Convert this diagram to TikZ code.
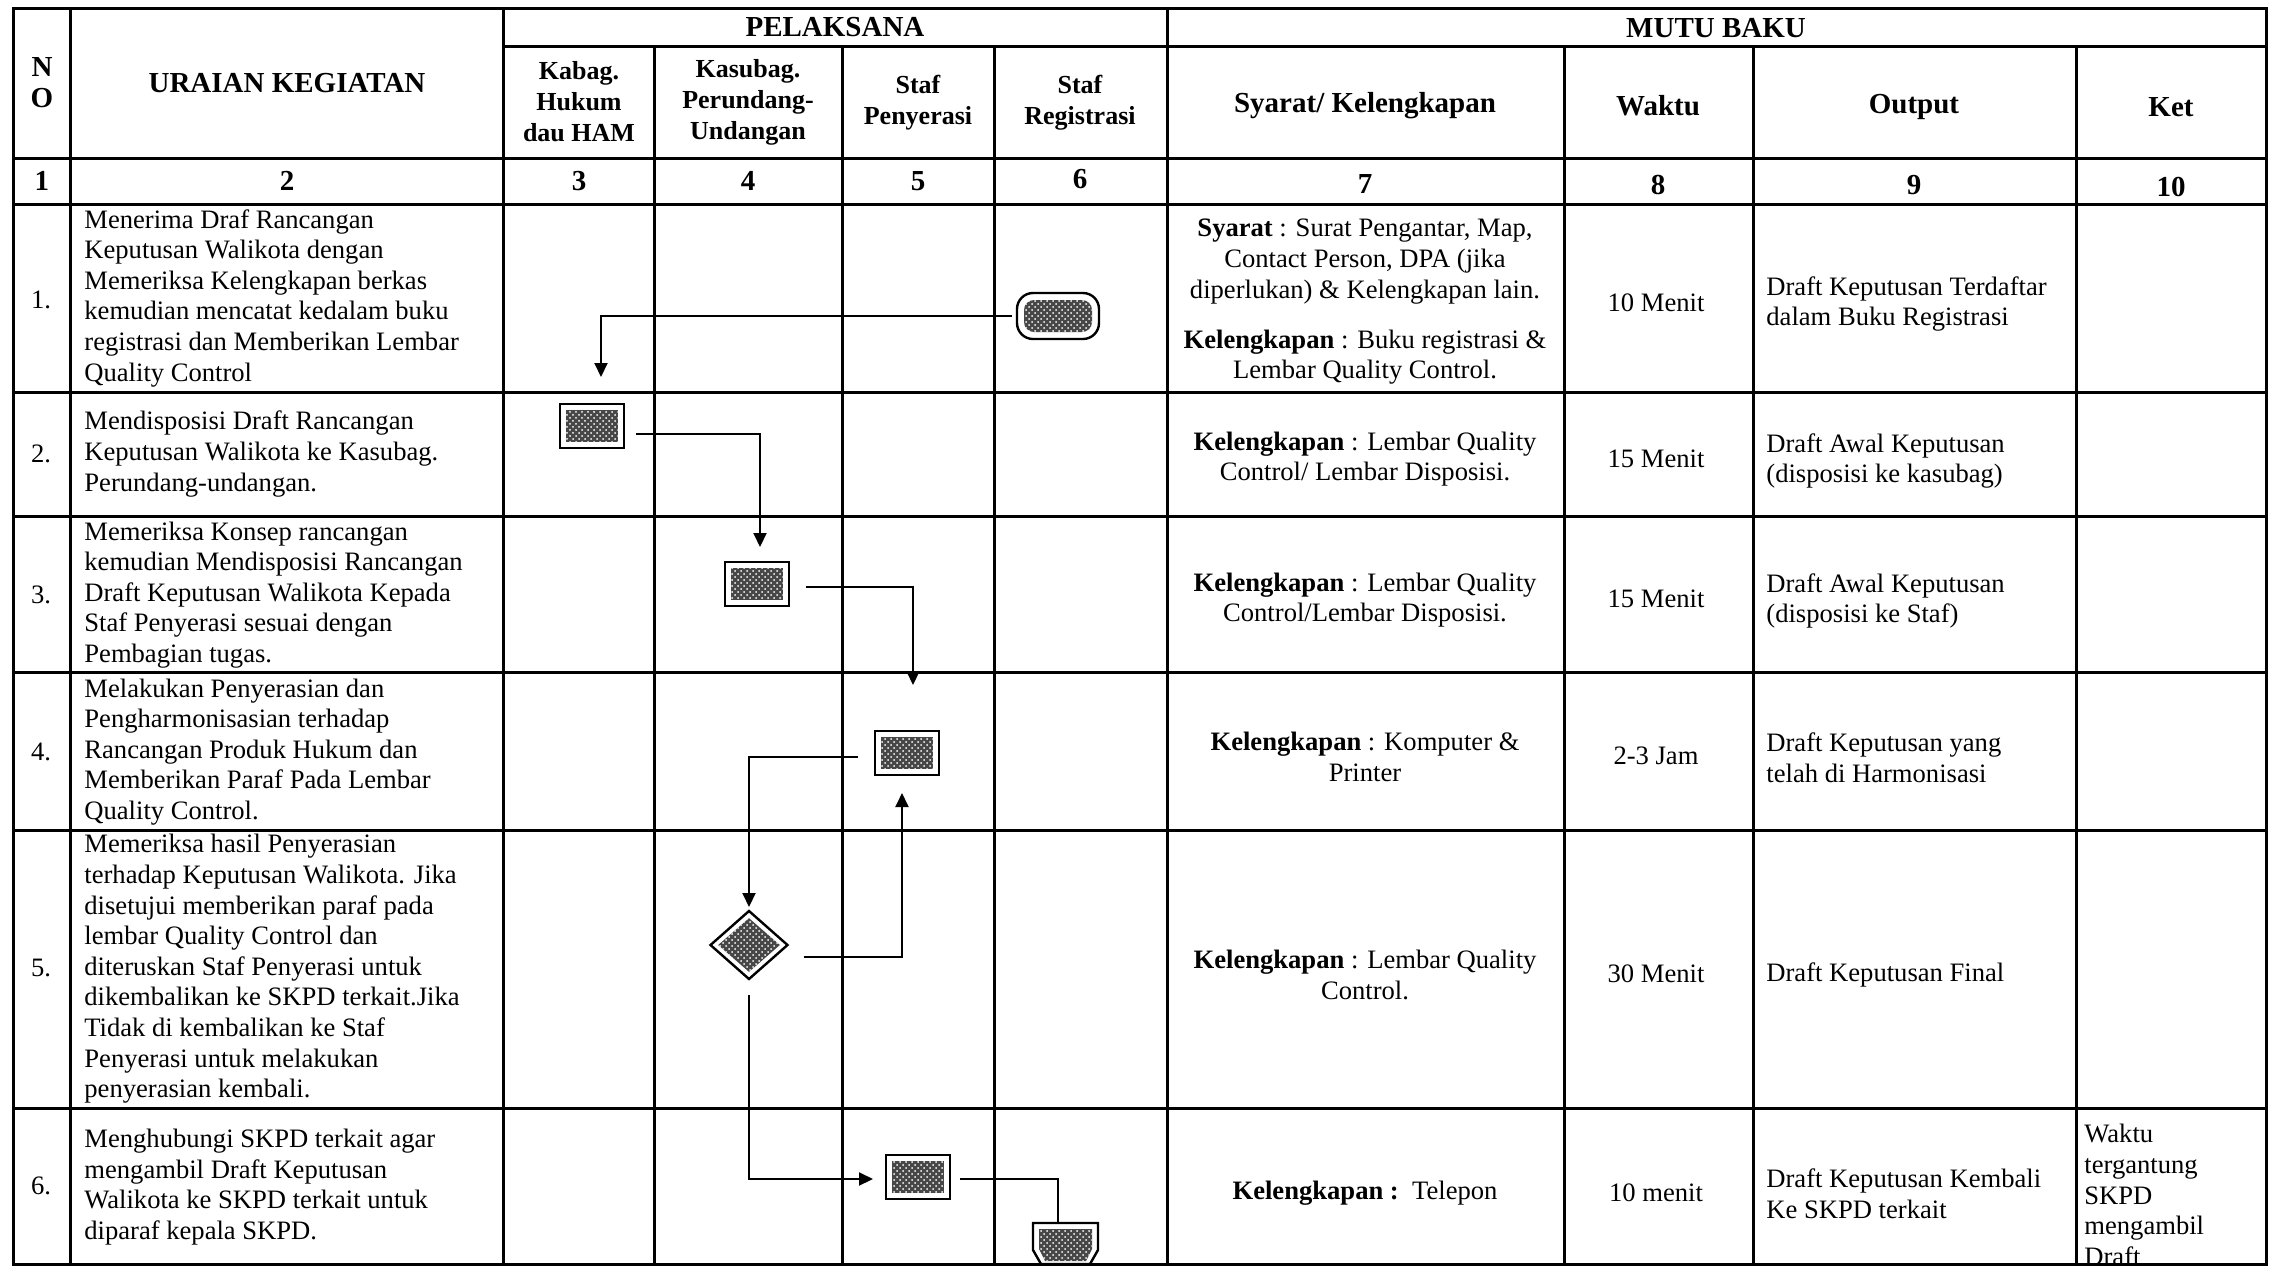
\documentclass[tikz,border=0pt]{standalone}
\usepackage{fontspec}
\setmainfont{Liberation Serif}
\usetikzlibrary{arrows.meta,patterns,shapes.geometric}
\begin{document}
\begin{tikzpicture}[x=0.5pt,y=-0.5pt,
  grid/.style={line width=1.5pt, line cap=rect},
  body/.style={font=\fontsize{13.3}{15.3}\selectfont, inner sep=0pt},
  lbody/.style={body, align=left, anchor=west},
  cbody/.style={body, align=center},
  head/.style={font=\fontsize{14.5}{15.5}\selectfont\bfseries, inner sep=0pt, align=center},
  subhead/.style={font=\fontsize{13}{15.5}\selectfont\bfseries, inner sep=0pt, align=center},
  flow/.style={line width=1pt, -{Triangle[width=6.5pt,length=7pt]}},
  link/.style={line width=1pt},
  texture/.style={fill=black!72, postaction={pattern=crosshatch dots, pattern color=white}},
  procbox/.style={draw, line width=1.2pt, fill=white, minimum width=32pt, minimum height=22pt, inner sep=0pt, outer sep=0pt},
  procin/.style={texture, minimum width=26pt, minimum height=16pt, inner sep=0pt},
  termbox/.style={draw, line width=1.2pt, fill=white, rounded corners=8pt, minimum width=41pt, minimum height=23pt, inner sep=0pt, outer sep=0pt},
  termin/.style={texture, rounded corners=5pt, minimum width=34pt, minimum height=16pt, inner sep=0pt},
  decbox/.style={diamond, draw, line width=1.2pt, fill=white, minimum width=38.5pt, minimum height=34pt, inner sep=0pt, outer sep=0pt},
  decin/.style={diamond, texture, minimum width=31pt, minimum height=27pt, inner sep=0pt},
]
\useasboundingbox (0,0) rectangle (2276,1270);
\fill[white] (0,0) rectangle (2276,1270);

% ---------- table grid ----------
\draw[grid] (13,8) rectangle (2266,1264);
\foreach \y in {158,204,392,516,672,830,1108} \draw[grid] (13,\y) -- (2266,\y);
\draw[grid] (503,46) -- (2266,46);
\foreach \x in {70,503,1167} \draw[grid] (\x,8) -- (\x,1264);
\foreach \x in {654,842,994,1564,1753,2076} \draw[grid] (\x,46) -- (\x,1264);

% ---------- header ----------
\node[head] (hno) at (42,83) {N\\O};
\node[head] (hur) at (287,83) {URAIAN KEGIATAN};
\node[head] (hpel) at (835,27) {PELAKSANA};
\node[head] (hmutu) at (1716,28) {MUTU BAKU};
\node[subhead] (hkab) at (579,102) {Kabag.\\Hukum\\dau HAM};
\node[subhead] (hkas) at (748,102) {Kasubag.\\Perundang-\\Undangan};
\node[subhead] (hstp) at (918,103) {Staf\\Penyerasi};
\node[subhead] (hstr) at (1080,103) {Staf\\Registrasi};
\node[head] (hsy) at (1365,106) {Syarat/ Kelengkapan};
\node[head] (hwak) at (1658,106) {Waktu};
\node[head] (hout) at (1914,107) {Output};
\node[head] (hket) at (2171,107) {Ket};

% number row
\node[head] (n1) at (42,181) {1};
\node[head] (n2) at (287,181) {2};
\node[head] (n3) at (579,181) {3};
\node[head] (n4) at (748,181) {4};
\node[head] (n5) at (918,181) {5};
\node[head] (n6) at (1080,179) {6};
\node[head] (n7) at (1365,184) {7};
\node[head] (n8) at (1658,185) {8};
\node[head] (n9) at (1914,185) {9};
\node[head] (n10) at (2171,187) {10};

% ---------- row numbers ----------
\node[body] (r1) at (41,300) {1.};
\node[body] (r2) at (41,454) {2.};
\node[body] (r3) at (41,595) {3.};
\node[body] (r4) at (41,752) {4.};
\node[body] (r5) at (41,968) {5.};
\node[body] (r6) at (41,1186) {6.};

% ---------- column 2 ----------
\node[lbody] (u1) at (84,298) {Menerima Draf Rancangan\\Keputusan Walikota dengan\\Memeriksa Kelengkapan berkas\\kemudian mencatat kedalam buku\\registrasi dan Memberikan Lembar\\Quality Control};
\node[lbody] (u2) at (84,454) {Mendisposisi Draft Rancangan\\Keputusan Walikota ke Kasubag.\\Perundang-undangan.};
\node[lbody] (u3) at (84,595) {Memeriksa Konsep rancangan\\kemudian Mendisposisi Rancangan\\Draft Keputusan Walikota Kepada\\Staf Penyerasi sesuai dengan\\Pembagian tugas.};
\node[lbody] (u4) at (84,752) {Melakukan Penyerasian dan\\Pengharmonisasian terhadap\\Rancangan Produk Hukum dan\\Memberikan Paraf Pada Lembar\\Quality Control.};
\node[lbody] (u5) at (84,969) {Memeriksa hasil Penyerasian\\terhadap Keputusan Walikota. Jika\\disetujui memberikan paraf pada\\lembar Quality Control dan\\diteruskan Staf Penyerasi untuk\\dikembalikan ke SKPD terkait.Jika\\Tidak di kembalikan ke Staf\\Penyerasi untuk melakukan\\penyerasian kembali.};
\node[lbody] (u6) at (84,1187) {Menghubungi SKPD terkait agar\\mengambil Draft Keputusan\\Walikota ke SKPD terkait untuk\\diparaf kepala SKPD.};

% ---------- column 7 ----------
\node[cbody] (s1) at (1365,302) {\textbf{Syarat} : Surat Pengantar, Map,\\Contact Person, DPA (jika\\diperlukan) \& Kelengkapan lain.\\[9.75pt]\textbf{Kelengkapan} : Buku registrasi \&\\Lembar Quality Control.};
\node[cbody] (s2) at (1365,459) {\textbf{Kelengkapan} : Lembar Quality\\Control/ Lembar Disposisi.};
\node[cbody] (s3) at (1365,600) {\textbf{Kelengkapan} : Lembar Quality\\Control/Lembar Disposisi.};
\node[cbody] (s4) at (1365,757) {\textbf{Kelengkapan} : Komputer \&\\Printer};
\node[cbody] (s5) at (1365,975) {\textbf{Kelengkapan} : Lembar Quality\\Control.};
\node[cbody] (s6) at (1365,1193) {\textbf{Kelengkapan :}\ \ Telepon};

% ---------- column 8 ----------
\node[cbody] (w1) at (1656,303) {10 Menit};
\node[cbody] (w2) at (1656,459) {15 Menit};
\node[cbody] (w3) at (1656,599) {15 Menit};
\node[cbody] (w4) at (1656,756) {2-3 Jam};
\node[cbody] (w5) at (1656,974) {30 Menit};
\node[cbody] (w6) at (1656,1193) {10 menit};

% ---------- column 9 ----------
\node[lbody] (o1) at (1766,304) {Draft Keputusan Terdaftar\\dalam Buku Registrasi};
\node[lbody] (o2) at (1766,461) {Draft Awal Keputusan\\(disposisi ke kasubag)};
\node[lbody] (o3) at (1766,601) {Draft Awal Keputusan\\(disposisi ke Staf)};
\node[lbody] (o4) at (1766,758) {Draft Keputusan yang\\telah di Harmonisasi};
\node[lbody] (o5) at (1766,975) {Draft Keputusan Final};
\node[lbody] (o6) at (1766,1194) {Draft Keputusan Kembali\\Ke SKPD terkait};

% ---------- column 10 ----------
\node[lbody] (k6) at (2084,1195) {Waktu\\tergantung\\SKPD\\mengambil\\Draft};

% ---------- flowchart symbols ----------
\node[termbox] (t1) at (1058,316) {};
\node[termin] (t1i) at (t1.center) {};
\node[procbox] (b2) at (592,426) {};
\node[procin] (b2i) at (b2.center) {};
\node[procbox] (b3) at (757,584) {};
\node[procin] (b3i) at (b3.center) {};
\node[procbox] (b4) at (907,753) {};
\node[procin] (b4i) at (b4.center) {};
\node[decbox] (d5) at (749,945) {};
\node[decin] (d5i) at (d5.center) {};
\node[procbox] (b6) at (918,1177) {};
\node[procin] (b6i) at (b6.center) {};
% off-page document shape (cut by the table bottom)
\draw[line width=1.2pt, fill=white] (1033,1223) -- (1098,1223) -- (1098,1250) -- (1090,1264) -- (1041,1264) -- (1033,1250) -- cycle;
\fill[texture] (1039,1229) -- (1092,1229) -- (1092,1249) -- (1086,1261) -- (1045,1261) -- (1039,1249) -- cycle;
\coordinate (docn) at (1058,1223);

% ---------- connectors ----------
\draw[flow, shorten <=2.5pt, shorten >=13.5pt] (t1.west) -| ([xshift=4.5pt]b2.north);
\draw[flow, shorten <=6pt, shorten >=7.5pt] ([yshift=-4pt]b2.east) -| ([xshift=1.5pt]b3.north);
\draw[flow, shorten <=8.5pt, shorten >=23pt] ([yshift=-1.5pt]b3.east) -| ([xshift=3pt]b4.north);
\draw[flow, shorten <=8.5pt, shorten >=2pt] ([yshift=-2pt]b4.west) -| (d5.north);
\draw[flow, shorten <=8pt, shorten >=9pt] ([yshift=-6pt]d5.east) -| ([xshift=-2.5pt]b4.south);
\draw[flow, shorten <=8pt, shorten >=6.5pt] (d5.south) |- ([yshift=-1pt]b6.west);
\draw[link, shorten <=5pt] ([yshift=-1pt]b6.east) -| (docn);
\end{tikzpicture}
\end{document}
